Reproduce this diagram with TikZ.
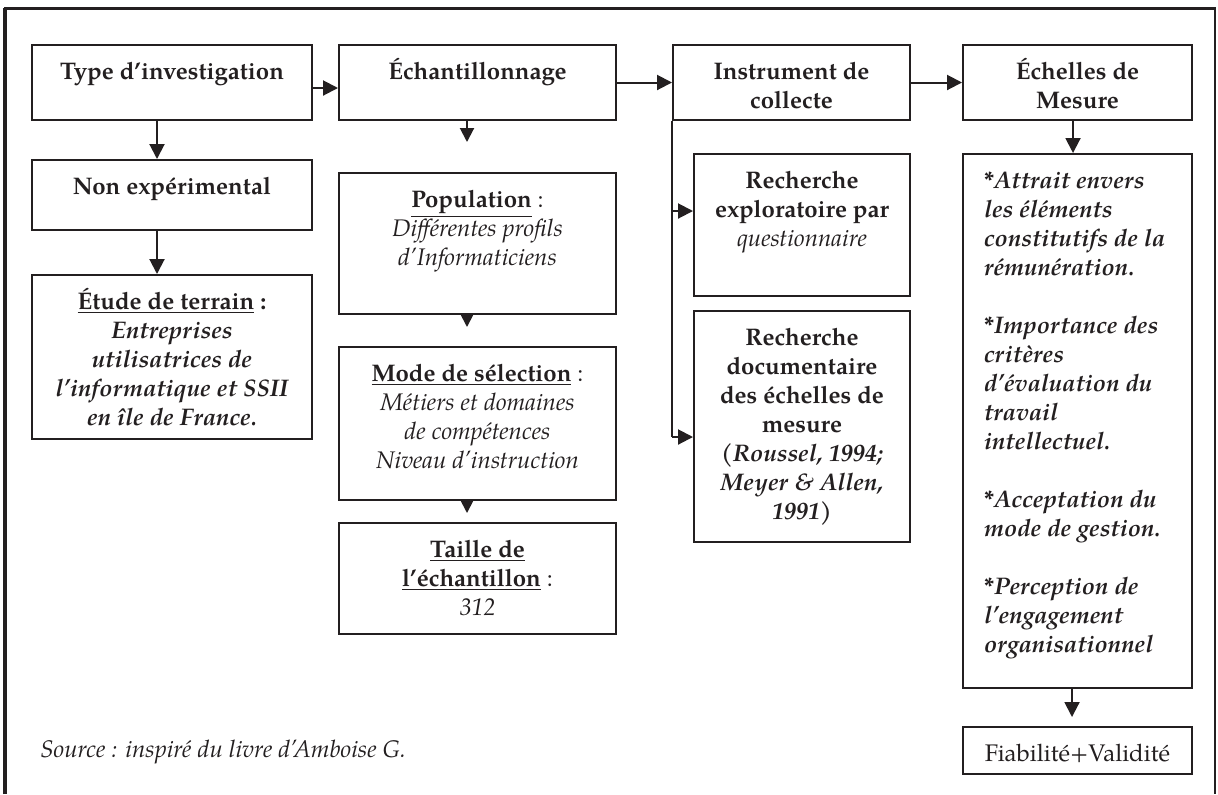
\documentclass[tikz,border=0pt]{standalone}
\usepackage{fontspec}
\setmainfont{texgyrepagella}[Extension=.otf, UprightFont=*-regular, BoldFont=*-bold, ItalicFont=*-italic, BoldItalicFont=*-bolditalic]
\usetikzlibrary{arrows.meta}
\definecolor{ink}{HTML}{231F20}
\newcommand{\bx}[3]{\parbox[c][#2pt][t]{#1pt}{\centering\rule{0pt}{17pt}#3}}
\tikzset{
  every node/.style={font=\fontsize{12}{14.5}\selectfont, text=ink},
  box/.style={draw=ink, line width=1pt, inner sep=0pt, anchor=north west},
  conn/.style={draw=ink, line width=1pt},
  arr/.style={conn, -{Triangle[length=7.5pt,width=7.5pt]}},
  sarr/.style={conn, -{Triangle[length=7pt,width=7pt]}}
}
\begin{document}
\begin{tikzpicture}[x=0.5pt,y=-0.5pt]
\fill[white] (0,0) rectangle (1218,794);
\useasboundingbox (0,0) rectangle (1218,794);
% frame
\draw[ink, line width=2pt] (5,794) -- (5,8);
\draw[ink, line width=1.5pt] (4,8) -- (1216,8);
\draw[ink, line width=1pt] (1215,8) -- (1215,794);

% top row
\node[box] (b1) at (31,44) {\bx{140}{37.5}{\textbf{Type d’investigation}}};
\node[box] (b2) at (338,44) {\bx{138.5}{37.5}{\textbf{Échantillonnage}}};
\node[box] (b3) at (672,44) {\bx{118.5}{37.5}{\textbf{Instrument de\\collecte}}};
\node[box] (b4) at (962,44) {\bx{114.5}{37.5}{\textbf{Échelles de\\Mesure}}};

% column 1
\node[box] (nonexp) at (31,159) {\bx{140}{35}{\textbf{Non expérimental}}};
\node[box] (etude) at (31,274) {\bx{140}{82}{\textbf{\underline{Étude de terrain} :}\\\textbf{\textit{Entreprises\\utilisatrices de\\l’informatique et SSII\\en île de France.}}}};

% column 2
\node[box] (pop) at (338,172) {\bx{138.5}{70.5}{\textbf{\underline{Population}} :\\\textit{Différentes profils\\d’Informaticiens}}};
\node[box] (mode) at (338,346) {\bx{138.5}{76.5}{\textbf{\underline{Mode de sélection}} :\\\textit{Métiers et domaines\\de compétences\\Niveau d’instruction}}};
\node[box] (taille) at (338,522) {\bx{138.5}{55.5}{\textbf{\underline{Taille de}}\\\textbf{\underline{l’échantillon}} :\\\textit{312}}};

% column 3
\node[box] (rexpl) at (693,153) {\bx{108}{71}{\textbf{Recherche\\exploratoire par}\\\textit{questionnaire}}};
\node[box] (rdoc) at (693,310) {\bx{108}{115.5}{\textbf{Recherche\\documentaire\\des échelles de\\mesure}\\\textbf{\textit{(Roussel, 1994;\\Meyer \& Allen,\\1991)}}}};

% column 4
\node[box] (list) at (962,153) {\parbox[c][267pt][t]{114.5pt}{\raggedright\leftskip=10.5pt\rightskip=-20pt plus 1fil\rule{0pt}{17pt}\bfseries\itshape
*Attrait envers\\les éléments\\constitutifs de la\\rémunération.\\[14.5pt]{*}Importance des\\critères\\d’évaluation du\\travail\\intellectuel.\\[14.5pt]{*}Acceptation du\\mode de gestion.\\[14.5pt]{*}Perception de\\l’engagement\\organisationnel}};
\node[box] (fiab) at (962,726) {\bx{114.5}{23.5}{Fiabilité+Validité}};

% source
\node[anchor=base west, inner sep=0pt] (src) at (40,757) {\itshape Source : inspiré du livre d’Amboise G.};

% connectors
\draw[arr] ([yshift=-2.75pt]b1.east) -- ([yshift=-2.75pt]b2.west);
\draw[arr] (b2.east) -- (b3.west);
\draw[arr] (b3.east) -- (b4.west);
\draw[arr] ([xshift=-7.5pt]b1.south) -- ([xshift=-7.5pt]nonexp.north);
\draw[arr] ([xshift=-7.5pt]nonexp.south) -- ([xshift=-7.5pt]etude.north);

\coordinate (c2) at (467,142);
\coordinate (c3) at (467,327);
\coordinate (c4) at (467,513);
\draw[sarr] (b2.south -| c2) -- (c2);
\draw[sarr] (pop.south -| c3) -- (c3);
\draw[sarr] (mode.south -| c4) -- (c4);

\coordinate (j1) at (672,211);
\coordinate (j2) at (672,437);
\draw[conn] (b3.south west) -- (j2);
\draw[arr] (j1) -- (j1 -| rexpl.west);
\draw[arr] (j2) -- (j2 -| rdoc.west);

\draw[arr] ([xshift=-2.25pt]b4.south) -- ([xshift=-2.25pt]list.north);
\coordinate (c5) at (1072,717);
\draw[arr] (list.south -| c5) -- (c5);
\end{tikzpicture}
\end{document}
